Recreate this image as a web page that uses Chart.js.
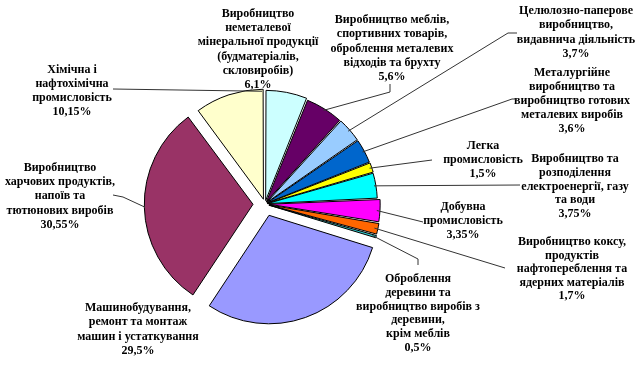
<!DOCTYPE html>
<html>
<head>
<meta charset="utf-8">
<script src="https://cdn.jsdelivr.net/npm/chart.js@4"></script>
<style>
  html, body { margin: 0; padding: 0; background: #fff; }
</style>
</head>
<body>
<canvas id="pieChart" width="643" height="366"></canvas>
<script>
// Структура виробництва (по годинниковій стрілці від 12 години)
const categories = [
    'Виробництво\nнеметалевої\nмінеральної продукції\n(будматеріалів,\nскловиробів)',
    'Виробництво меблів,\nспортивних товарів,\nоброблення металевих\nвідходів та брухту',
    'Целюлозно-паперове\nвиробництво,\nвидавнича діяльність',
    'Металургійне\nвиробництво та\nвиробництво готових\nметалевих виробів',
    'Легка\nпромисловість',
    'Виробництво та\nрозподілення\nелектроенергії, газу\nта води',
    'Добувна\nпромисловість',
    'Виробництво коксу,\nпродуктів\nнафтопереблення та\nядерних матеріалів',
    'Оброблення\nдеревини та\nвиробництво виробів з\nдеревини,\nкрім меблів',
    'Машинобудування,\nремонт та монтаж\nмашин і устаткування',
    'Виробництво\nхарчових продуктів,\nнапоїв та\nтютюнових виробів',
    'Хімічна і\nнафтохімічна\nпромисловість'
];
const shares = [6.1, 5.6, 3.7, 3.6, 1.5, 3.75, 3.35, 1.7, 0.5, 29.5, 30.55, 10.15];

const sliceColors = ['#ccffff', '#660066', '#99ccff', '#0066cc', '#ffff00', '#00ffff',
                     '#ff00ff', '#ff6600', '#33cccc', '#9999ff', '#993366', '#ffffcc'];
// chart.js ділить offset на 4
const sliceOffsets = [14, 10, 10, 10, 10, 10, 16, 16, 16, 48, 48, 20];

// розміщення підписів: центр тексту, крок рядка, виноска (точки до сектора)
const labelBoxes = [
    { x: 258, y: 14, step: 14.2, path: null },
    { x: 392, y: 20, step: 14.25, path: [[390, 84], [390, 92]] },
    { x: 576, y: 11, step: 14.3, path: [[517, 33], [508, 33]] },
    { x: 572, y: 73, step: 14, path: [[517, 99], [512, 99]] },
    { x: 483, y: 146, step: 14, path: [[432, 160]] },
    { x: 575, y: 159, step: 13.8, path: [[520, 185]] },
    { x: 463, y: 207, step: 14, path: [[423, 222]] },
    { x: 572, y: 242, step: 13.6, path: [[505, 268]] },
    { x: 418, y: 279, step: 13.8, path: [[418, 265], [418, 259]] },
    { x: 138, y: 308, step: 14.3, path: null },
    { x: 60, y: 168, step: 14.2, path: [[113, 195], [123, 197]] },
    { x: 72, y: 70, step: 14, path: [[113, 89]], at: 0.98 }
];

const pct = v => String(v).replace('.', ',') + '%';

const labelPlugin = {
    id: 'sliceLabels',
    afterDatasetsDraw(chart) {
        const ctx = chart.ctx;
        const arcs = chart.getDatasetMeta(0).data;
        ctx.save();
        ctx.font = 'bold 12px "Liberation Serif", "Times New Roman", serif';
        ctx.textAlign = 'center';
        ctx.textBaseline = 'middle';
        ctx.fillStyle = '#000';
        ctx.strokeStyle = '#333';
        ctx.lineWidth = 1;
        arcs.forEach((arc, i) => {
            const box = labelBoxes[i];
            const lines = categories[i].split('\n').concat(pct(shares[i]));
            lines.forEach((t, k) => ctx.fillText(t, box.x, box.y + k * box.step));
            if (!box.path) return;
            const p = arc.getProps(['x', 'y', 'startAngle', 'endAngle', 'outerRadius'], true);
            const mid = (p.startAngle + p.endAngle) / 2;
            const a = p.startAngle + (p.endAngle - p.startAngle) * (box.at ?? 0.5);
            const shift = sliceOffsets[i] / 4;
            const ex = p.x + Math.cos(mid) * shift + Math.cos(a) * p.outerRadius;
            const ey = p.y + Math.sin(mid) * shift + Math.sin(a) * p.outerRadius;
            ctx.beginPath();
            ctx.moveTo(box.path[0][0], box.path[0][1]);
            box.path.slice(1).forEach(pt => ctx.lineTo(pt[0], pt[1]));
            ctx.lineTo(ex, ey);
            ctx.stroke();
        });
        ctx.restore();
    }
};

const pieCtx = document.getElementById('pieChart').getContext('2d');
const pieChart = new Chart(pieCtx, {
    type: 'pie',
    data: {
        labels: categories,
        datasets: [{
            data: shares,
            backgroundColor: sliceColors,
            borderColor: '#000',
            borderWidth: 1,
            offset: sliceOffsets
        }]
    },
    options: {
        responsive: false,
        animation: false,
        radius: 108,
        layout: { padding: { left: 20, right: 133, top: 50, bottom: 8 } },
        plugins: {
            legend: { display: false },
            tooltip: { enabled: false }
        }
    },
    plugins: [labelPlugin]
});
</script>
</body>
</html>
